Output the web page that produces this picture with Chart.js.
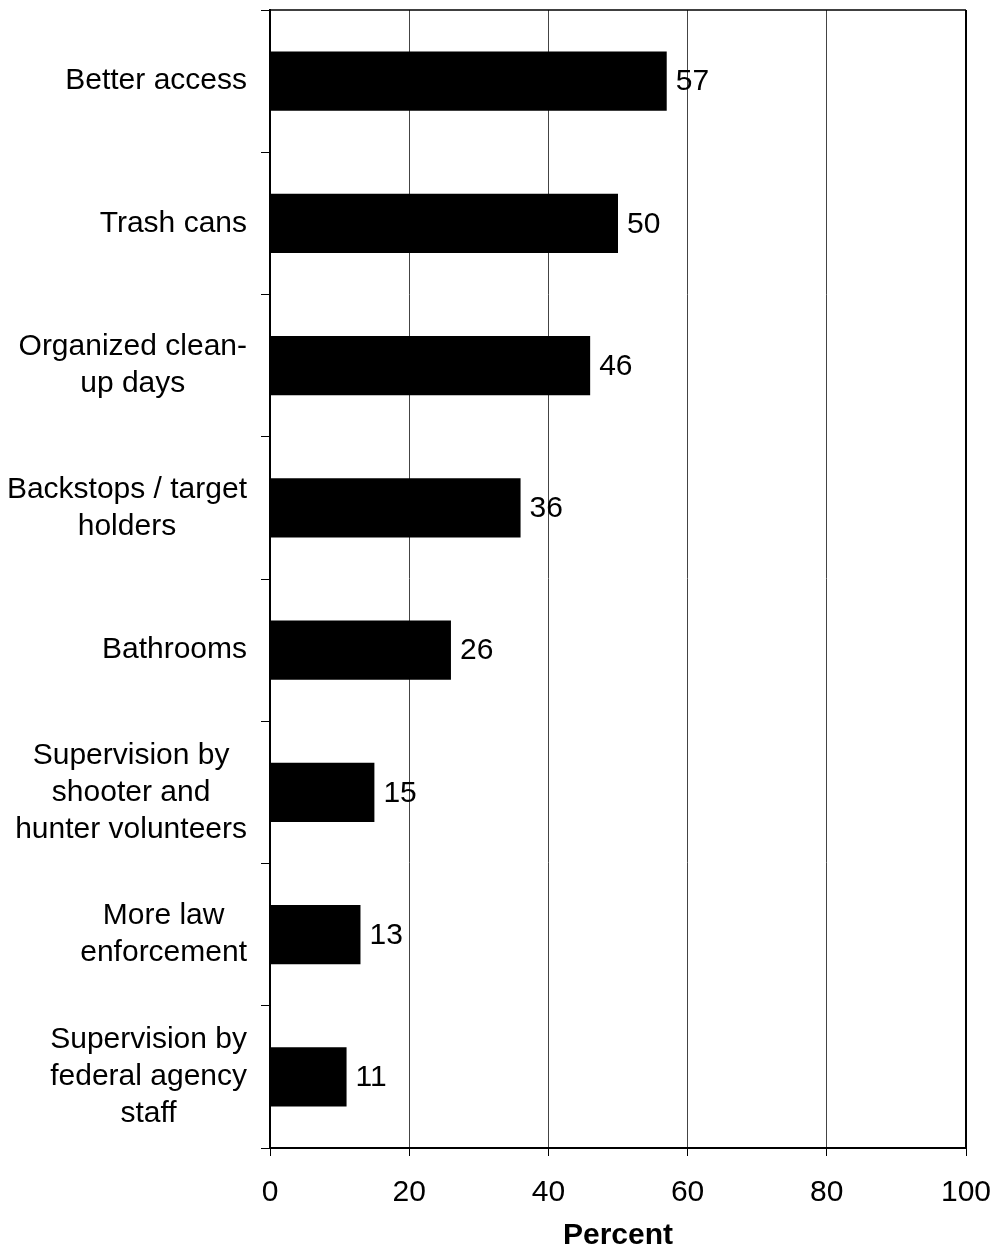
<!DOCTYPE html>
<html>
<head>
<meta charset="utf-8">
<script src="https://cdn.jsdelivr.net/npm/chart.js@4.4.1/dist/chart.umd.min.js"></script>
<style>
  body { margin: 0; background: #fff; }
  canvas { display: block; }
</style>
</head>
<body>
<canvas id="barChart" width="995" height="1256"></canvas>
<script>
// categories (multi-line labels) and percentages
const categories = [
  ['Better access'],
  ['Trash cans'],
  ['Organized clean-', 'up days'],
  ['Backstops / target', 'holders'],
  ['Bathrooms'],
  ['Supervision by', 'shooter and', 'hunter volunteers'],
  ['More law', 'enforcement'],
  ['Supervision by', 'federal agency', 'staff']
];
const percents = [57, 50, 46, 36, 26, 15, 13, 11];
const xTicks = [0, 20, 40, 60, 80, 100];

const FONT = 'Arial, "Liberation Sans", sans-serif';
const FSIZE = 30;

// draws the category names: block right aligned, lines centered inside it
const categoryLabels = {
  id: 'categoryLabels',
  afterDraw(chart) {
    const ctx = chart.ctx;
    const y = chart.scales.y;
    const lineH = 37;
    ctx.save();
    ctx.font = FSIZE + 'px ' + FONT;
    ctx.fillStyle = '#000';
    ctx.textBaseline = 'middle';
    ctx.textAlign = 'center';
    categories.forEach((lines, i) => {
      const cy = y.getPixelForValue(i);
      const w = Math.max(...lines.map(l => ctx.measureText(l).width));
      const cx = 247 - w / 2;
      const top = cy - (lines.length - 1) * lineH / 2;
      lines.forEach((l, j) => ctx.fillText(l, cx, top + j * lineH));
    });
    ctx.restore();
  }
};

// value at the end of every bar
const valueLabels = {
  id: 'valueLabels',
  afterDatasetsDraw(chart) {
    const ctx = chart.ctx;
    const meta = chart.getDatasetMeta(0);
    ctx.save();
    ctx.font = FSIZE + 'px ' + FONT;
    ctx.fillStyle = '#000';
    ctx.textBaseline = 'middle';
    ctx.textAlign = 'left';
    meta.data.forEach((bar, i) => {
      ctx.fillText(String(percents[i]), bar.x + 9, bar.y + 1);
    });
    ctx.restore();
  }
};

// top and right edges of the plot frame
const frame = {
  id: 'frame',
  afterDraw(chart) {
    const a = chart.chartArea;
    const ctx = chart.ctx;
    ctx.save();
    ctx.strokeStyle = '#000';
    ctx.lineWidth = 1.5;
    ctx.beginPath();
    ctx.moveTo(a.left, a.top);
    ctx.lineTo(a.right, a.top);
    ctx.stroke();
    ctx.lineWidth = 2;
    ctx.beginPath();
    ctx.moveTo(a.right, a.top);
    ctx.lineTo(a.right, a.bottom);
    ctx.stroke();
    ctx.restore();
  }
};

new Chart(document.getElementById('barChart'), {
  type: 'bar',
  data: {
    labels: categories.map(c => c.join(' ')),
    datasets: [{
      data: percents,
      backgroundColor: '#000',
      borderWidth: 0,
      barPercentage: 0.415,
      categoryPercentage: 1
    }]
  },
  options: {
    indexAxis: 'y',
    responsive: false,
    animation: false,
    layout: { padding: { top: 10, right: 29, left: 0, bottom: 0 } },
    plugins: {
      legend: { display: false },
      tooltip: { enabled: false }
    },
    scales: {
      x: {
        min: 0,
        max: 100,
        afterBuildTicks: s => { s.ticks = xTicks.map(v => ({ value: v })); },
        afterFit: s => {
          s.height = 108;
          s.paddingLeft = 0;
          s.paddingRight = 0;
        },
        grid: {
          color: '#444',
          lineWidth: 1,
          tickColor: '#000',
          tickLength: 8
        },
        border: { color: '#000', width: 2 },
        ticks: {
          color: '#000',
          padding: 19,
          font: { family: FONT, size: FSIZE }
        },
        title: {
          display: true,
          text: 'Percent',
          color: '#000',
          font: { family: FONT, size: FSIZE, weight: 'bold' },
          padding: { top: 0, bottom: 2 }
        }
      },
      y: {
        afterFit: s => {
          s.width = 270;
          s.paddingTop = 0;
          s.paddingBottom = 0;
        },
        grid: {
          drawOnChartArea: false,
          color: '#000',
          tickColor: '#000',
          tickLength: 9,
          offset: true
        },
        border: { color: '#000', width: 2 },
        ticks: {
          display: true,
          color: 'rgba(0,0,0,0)',
          font: { family: FONT, size: 1 }
        }
      }
    }
  },
  plugins: [categoryLabels, valueLabels, frame]
});
</script>
</body>
</html>
